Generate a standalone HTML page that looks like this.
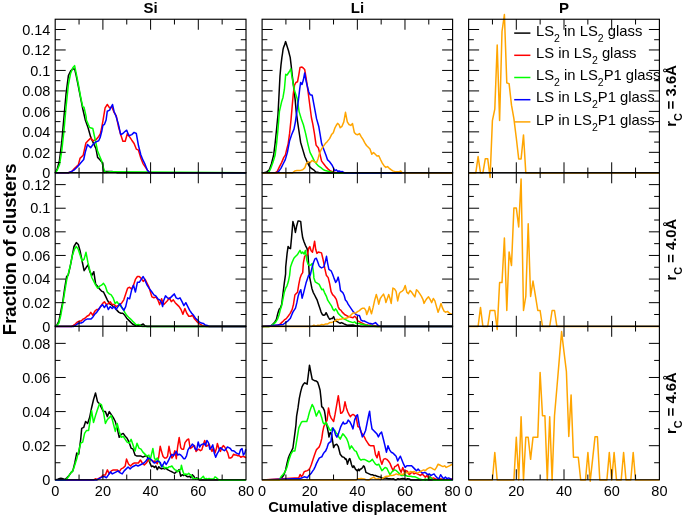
<!DOCTYPE html><html><head><meta charset="utf-8"><style>html,body{margin:0;padding:0;background:#fff;}svg{display:block;}text{font-family:"Liberation Sans",sans-serif;}</style></head><body>
<svg width="685" height="516" viewBox="0 0 685 516">
<rect width="685" height="516" fill="#fff"/>
<defs><filter id="gs" x="0" y="0" width="100%" height="100%" filterUnits="userSpaceOnUse"><feColorMatrix type="saturate" values="0"/></filter></defs>
<path d="M514.2 33.1H530.4" stroke="#000000" stroke-width="1.5"/>
<text filter="url(#gs)" x="536" y="35.7" font-size="14.8"><tspan dy="0">LS</tspan><tspan dy="6" font-size="10.5">2</tspan><tspan dy="-6">&#160;in&#160;LS</tspan><tspan dy="6" font-size="10.5">2</tspan><tspan dy="-6">&#160;glass</tspan></text>
<path d="M514.2 55.3H530.4" stroke="#ff0000" stroke-width="1.5"/>
<text filter="url(#gs)" x="536" y="57.9" font-size="14.8"><tspan dy="0">LS&#160;in&#160;LS</tspan><tspan dy="6" font-size="10.5">2</tspan><tspan dy="-6">&#160;glass</tspan></text>
<path d="M514.2 77.5H530.4" stroke="#00ff00" stroke-width="1.5"/>
<text filter="url(#gs)" x="536" y="80.1" font-size="14.8"><tspan dy="0">LS</tspan><tspan dy="6" font-size="10.5">2</tspan><tspan dy="-6">&#160;in&#160;LS</tspan><tspan dy="6" font-size="10.5">2</tspan><tspan dy="-6">P1&#160;glass</tspan></text>
<path d="M514.2 99.7H530.4" stroke="#0000ff" stroke-width="1.5"/>
<text filter="url(#gs)" x="536" y="102.3" font-size="14.8"><tspan dy="0">LS&#160;in&#160;LS</tspan><tspan dy="6" font-size="10.5">2</tspan><tspan dy="-6">P1&#160;glass</tspan></text>
<path d="M514.2 121.9H530.4" stroke="#ffa500" stroke-width="1.5"/>
<text filter="url(#gs)" x="536" y="124.5" font-size="14.8"><tspan dy="0">LP&#160;in&#160;LS</tspan><tspan dy="6" font-size="10.5">2</tspan><tspan dy="-6">P1&#160;glass</tspan></text>
<g fill="none" stroke-width="1.5" stroke-linejoin="round">
<path d="M55.2,172.8 57.2,169.1 59.5,160.2 61.7,142.4 63.9,117.9 66.1,93.4 68.4,75.6 70.6,71.1 72.8,68.9 74.6,68.9 76.2,75.6 78.4,86.7 80.6,97.9 82.8,109.0 85.1,119.0 85.3,120.0 88.0,127.5 90.7,137.1 93.3,142.9 96.0,148.8 97.6,157.4 99.7,159.5 102.4,162.7 103.5,170.2 104.5,172.5 105.1,171.4 108.5,171.4 111.8,171.4 115.1,172.0 117.4,172.7 246.0,172.8" stroke="#000000"/>
<path d="M55.2,172.8 68.4,172.7 71.7,171.4 73.9,169.1 76.2,166.9 78.4,164.7 80.0,158.4 83.2,155.2 85.9,143.0 88.0,140.8 90.7,138.1 92.8,140.8 96.0,139.7 98.7,136.5 100.3,133.9 101.3,129.6 102.9,121.1 105.1,107.9 107.3,104.5 109.6,107.9 111.8,106.8 114.0,112.3 116.2,115.7 118.5,126.8 120.7,134.6 122.9,141.3 125.2,141.3 127.4,133.5 129.6,136.8 131.8,140.2 134.1,143.5 136.3,149.1 138.5,150.2 140.8,158.0 143.0,163.6 145.2,166.9 147.4,170.2 149.7,172.7 246.0,172.8" stroke="#ff0000"/>
<path d="M55.2,172.8 57.2,170.2 59.5,164.7 61.7,151.3 63.9,131.3 66.1,106.8 68.4,84.5 70.6,73.4 72.8,67.8 74.6,65.6 76.2,73.4 78.4,84.5 80.6,96.8 82.8,106.8 84.0,107.2 86.2,116.8 86.4,120.0 89.6,127.5 92.8,128.5 94.4,136.0 96.0,143.5 97.6,151.0 99.7,156.3 101.9,161.6 102.9,165.9 104.5,171.2 106.1,172.5 109.9,171.8 246.0,172.8" stroke="#00ff00"/>
<path d="M55.2,172.8 68.4,172.7 71.7,171.4 73.9,170.2 76.2,168.0 78.4,165.8 80.0,163.8 83.7,159.5 85.3,152.0 87.5,144.5 90.7,147.7 93.3,144.0 96.0,141.9 98.7,140.8 100.3,137.1 101.9,130.7 102.9,125.3 104.5,124.3 106.1,120.0 107.3,111.2 109.6,110.1 112.5,104.5 114.0,111.2 116.2,116.8 118.5,124.6 120.7,134.6 122.9,133.5 125.2,131.3 126.7,130.2 128.9,135.7 131.8,134.6 134.1,132.4 136.3,133.5 138.5,145.8 140.8,154.7 143.0,160.2 145.2,164.7 147.4,170.2 149.7,172.7 246.0,172.8" stroke="#0000ff"/>
</g>
<rect x="55.20" y="19.25" width="190.80" height="153.55" fill="none" stroke="#000" stroke-width="1.15"/>
<path d="M79.05 172.80V167.55M79.05 19.25V24.50M102.90 172.80V162.30M102.90 19.25V29.75M126.75 172.80V167.55M126.75 19.25V24.50M150.60 172.80V162.30M150.60 19.25V29.75M174.45 172.80V167.55M174.45 19.25V24.50M198.30 172.80V162.30M198.30 19.25V29.75M222.15 172.80V167.55M222.15 19.25V24.50M55.20 162.56H60.45M246.00 162.56H240.75M55.20 152.33H65.70M246.00 152.33H235.50M55.20 142.09H60.45M246.00 142.09H240.75M55.20 131.85H65.70M246.00 131.85H235.50M55.20 121.62H60.45M246.00 121.62H240.75M55.20 111.38H65.70M246.00 111.38H235.50M55.20 101.14H60.45M246.00 101.14H240.75M55.20 90.91H65.70M246.00 90.91H235.50M55.20 80.67H60.45M246.00 80.67H240.75M55.20 70.43H65.70M246.00 70.43H235.50M55.20 60.20H60.45M246.00 60.20H240.75M55.20 49.96H65.70M246.00 49.96H235.50M55.20 39.72H60.45M246.00 39.72H240.75M55.20 29.49H65.70M246.00 29.49H235.50" stroke="#000" stroke-width="1" fill="none"/>
<g fill="none" stroke-width="1.5" stroke-linejoin="round">
<path d="M262.1,173.0 264.9,172.6 267.1,171.6 269.3,169.8 271.4,164.0 273.6,155.3 275.1,143.6 276.6,129.1 278.0,114.5 280.0,75.7 281.0,64.8 281.9,57.4 282.5,53.5 283.0,49.6 283.6,47.3 284.4,45.4 285.6,41.6 286.3,43.8 287.3,46.9 288.5,50.8 289.6,55.1 290.2,57.4 291.1,64.8 292.1,74.3 293.9,89.2 295.2,100.1 296.2,111.6 297.6,121.8 299.1,132.0 300.6,142.2 302.7,149.4 304.9,156.7 307.1,161.8 309.3,166.2 311.4,168.4 313.6,169.8 315.8,172.0 318.7,172.5 323.1,172.9 452.6,173.0" stroke="#000000"/>
<path d="M262.1,173.0 275.1,172.9 277.3,171.3 279.4,166.9 281.6,162.6 283.8,157.4 285.3,155.3 286.7,149.4 288.2,143.6 289.6,133.4 291.1,118.9 293.2,94.7 294.5,85.2 295.9,82.5 297.5,81.8 298.9,74.3 300.0,67.5 302.0,67.1 303.4,68.2 304.7,69.6 305.7,75.7 306.8,82.5 308.1,92.0 311.4,117.5 312.9,124.7 314.4,133.4 316.1,145.1 318.4,148.0 320.2,155.3 321.6,161.1 323.8,164.0 326.0,166.9 328.2,169.1 330.4,171.0 333.3,172.0 337.6,172.9 452.6,173.0" stroke="#ff0000"/>
<path d="M262.1,173.0 267.8,172.9 269.3,171.3 270.7,168.4 272.9,162.6 275.1,155.3 276.6,143.6 278.0,129.1 279.4,111.6 281.7,101.4 283.0,97.4 284.4,89.2 285.7,74.3 287.1,75.0 288.4,73.0 289.8,70.9 290.8,68.9 291.8,75.7 293.2,83.8 294.5,90.6 295.9,94.7 297.2,98.7 299.1,111.6 301.3,118.9 303.4,124.7 305.6,133.4 307.8,143.6 310.0,152.4 312.2,156.7 314.4,161.1 316.6,164.0 318.7,166.2 320.9,167.6 323.1,169.5 325.3,170.6 328.2,171.3 331.1,172.0 334.7,172.9 452.6,173.0" stroke="#00ff00"/>
<path d="M262.1,173.0 276.6,172.9 278.7,171.3 280.9,168.4 283.1,164.0 285.3,159.6 287.4,152.4 289.6,140.7 291.8,134.2 294.0,129.1 295.4,121.8 298.6,98.7 299.7,89.2 300.6,82.5 302.0,84.5 303.4,79.8 304.7,73.0 306.1,81.1 307.4,86.5 308.8,92.0 310.1,94.7 312.2,95.3 316.6,118.9 318.7,126.2 320.2,134.9 321.6,143.6 323.8,149.4 326.0,155.3 327.4,159.6 329.6,161.8 331.8,164.7 333.3,167.6 334.7,170.6 336.2,169.8 337.6,171.3 339.1,171.0 341.3,172.0 342.0,171.4 344.6,173.0 452.6,173.0" stroke="#0000ff"/>
<path d="M262.1,173.0 292.6,172.9 294.7,171.0 296.9,170.6 299.8,170.6 302.7,169.8 304.9,167.6 306.4,163.3 308.6,161.8 310.0,162.6 312.2,160.4 314.4,161.8 316.6,162.6 318.0,158.9 319.4,153.8 320.9,150.2 323.1,146.6 325.3,143.6 327.4,141.4 329.6,138.6 331.8,134.2 333.3,132.7 334.7,128.4 336.2,125.5 337.6,123.3 339.1,124.7 340.2,127.7 342.0,126.3 343.8,121.9 345.5,112.3 347.3,121.9 349.0,124.5 350.8,125.4 352.5,123.6 354.3,132.4 356.0,134.2 357.8,134.7 359.5,133.6 361.3,136.8 363.0,139.4 364.8,142.9 366.5,145.5 368.3,147.3 370.0,149.0 371.8,154.3 373.5,152.5 375.3,154.3 377.0,156.0 378.8,155.7 380.5,159.5 382.3,163.1 384.0,165.7 385.8,167.4 387.5,166.6 389.3,168.3 391.0,169.7 392.8,170.9 394.5,171.4 396.3,171.8 398.9,171.8 400.7,170.9 402.4,173.0 452.6,173.0" stroke="#ffa500"/>
</g>
<rect x="262.10" y="19.25" width="190.50" height="153.55" fill="none" stroke="#000" stroke-width="1.15"/>
<path d="M285.91 172.80V167.55M285.91 19.25V24.50M309.73 172.80V162.30M309.73 19.25V29.75M333.54 172.80V167.55M333.54 19.25V24.50M357.35 172.80V162.30M357.35 19.25V29.75M381.16 172.80V167.55M381.16 19.25V24.50M404.98 172.80V162.30M404.98 19.25V29.75M428.79 172.80V167.55M428.79 19.25V24.50M262.10 162.56H267.35M452.60 162.56H447.35M262.10 152.33H272.60M452.60 152.33H442.10M262.10 142.09H267.35M452.60 142.09H447.35M262.10 131.85H272.60M452.60 131.85H442.10M262.10 121.62H267.35M452.60 121.62H447.35M262.10 111.38H272.60M452.60 111.38H442.10M262.10 101.14H267.35M452.60 101.14H447.35M262.10 90.91H272.60M452.60 90.91H442.10M262.10 80.67H267.35M452.60 80.67H447.35M262.10 70.43H272.60M452.60 70.43H442.10M262.10 60.20H267.35M452.60 60.20H447.35M262.10 49.96H272.60M452.60 49.96H442.10M262.10 39.72H267.35M452.60 39.72H447.35M262.10 29.49H272.60M452.60 29.49H442.10" stroke="#000" stroke-width="1" fill="none"/>
<g fill="none" stroke-width="1.5" stroke-linejoin="round">
<path d="M468.6,172.9 475.8,172.9 478.1,156.6 480.5,172.9 482.9,172.9 485.3,158.7 487.7,158.7 490.1,177.5 492.4,120.6 494.8,109.1 497.2,45.0 499.6,120.6 502.0,31.5 504.4,14.6 506.8,82.9 509.1,83.7 511.5,105.2 513.9,118.7 516.3,138.0 518.7,158.9 521.1,158.9 523.5,134.9 525.8,172.9 659.4,172.9" stroke="#ffa500"/>
</g>
<rect x="468.60" y="19.25" width="190.80" height="153.55" fill="none" stroke="#000" stroke-width="1.15"/>
<path d="M492.45 172.80V167.55M492.45 19.25V24.50M516.30 172.80V162.30M516.30 19.25V29.75M540.15 172.80V167.55M540.15 19.25V24.50M564.00 172.80V162.30M564.00 19.25V29.75M587.85 172.80V167.55M587.85 19.25V24.50M611.70 172.80V162.30M611.70 19.25V29.75M635.55 172.80V167.55M635.55 19.25V24.50M468.60 162.56H473.85M659.40 162.56H654.15M468.60 152.33H479.10M659.40 152.33H648.90M468.60 142.09H473.85M659.40 142.09H654.15M468.60 131.85H479.10M659.40 131.85H648.90M468.60 121.62H473.85M659.40 121.62H654.15M468.60 111.38H479.10M659.40 111.38H648.90M468.60 101.14H473.85M659.40 101.14H654.15M468.60 90.91H479.10M659.40 90.91H648.90M468.60 80.67H473.85M659.40 80.67H654.15M468.60 70.43H479.10M659.40 70.43H648.90M468.60 60.20H473.85M659.40 60.20H654.15M468.60 49.96H479.10M659.40 49.96H648.90M468.60 39.72H473.85M659.40 39.72H654.15M468.60 29.49H479.10M659.40 29.49H648.90" stroke="#000" stroke-width="1" fill="none"/>
<g fill="none" stroke-width="1.5" stroke-linejoin="round">
<path d="M55.0,326.5 56.9,325.0 58.9,321.1 60.8,311.4 62.8,301.7 64.7,288.1 66.6,276.5 68.2,275.0 70.1,266.8 72.0,257.1 74.0,246.5 76.3,242.6 78.3,244.5 80.2,251.3 82.1,261.0 84.1,270.7 86.0,267.8 88.0,264.9 89.9,271.7 91.8,275.5 93.8,271.7 95.7,284.3 97.6,286.2 99.6,289.1 101.5,291.1 103.5,292.0 105.4,295.9 107.3,299.8 109.3,303.6 111.2,304.6 113.1,306.6 115.1,307.5 117.0,310.4 119.0,312.4 120.9,313.3 122.8,313.3 124.8,315.3 126.7,318.2 128.6,320.1 130.6,322.1 132.5,324.0 134.5,325.0 136.4,325.5 138.3,325.0 140.3,325.5 143.2,324.0 145.1,326.1 147.1,326.5 246.0,326.5" stroke="#000000"/>
<path d="M55.2,326.5 71.5,326.5 73.4,325.4 75.3,324.0 77.3,322.1 79.2,321.1 81.2,321.1 83.1,319.1 85.0,318.2 87.0,316.2 88.9,315.3 90.8,312.4 92.8,315.3 94.7,311.4 96.7,309.5 98.6,309.5 100.5,306.6 102.5,303.6 104.4,301.7 106.4,304.6 108.3,303.6 110.2,301.7 112.2,304.6 114.1,304.6 116.0,306.6 118.0,305.6 119.9,304.6 121.9,302.7 123.8,299.8 125.7,293.9 127.7,288.1 129.6,287.2 131.6,289.1 133.5,285.2 135.4,279.4 137.4,276.5 139.3,276.5 141.2,278.4 143.2,281.4 145.1,279.4 147.1,283.3 149.0,287.2 151.9,296.9 153.9,297.8 155.8,296.9 157.8,299.8 159.7,304.6 161.6,298.8 163.6,304.6 165.5,302.7 167.4,300.7 169.4,297.8 171.3,301.7 173.3,299.8 175.2,302.7 177.1,304.6 179.1,306.6 181.0,309.5 182.9,314.3 184.9,308.5 186.8,313.3 188.8,316.2 190.7,316.2 192.6,315.3 194.6,319.1 196.5,321.1 198.4,323.0 200.4,324.4 202.3,325.4 204.3,326.1 206.2,326.5 246.0,326.5" stroke="#ff0000"/>
<path d="M55.0,326.5 56.9,325.4 58.9,323.0 60.8,315.3 62.8,303.6 64.7,292.0 66.6,280.4 68.6,272.6 70.5,264.9 72.4,255.2 74.4,249.4 76.3,246.5 78.3,249.4 80.2,255.2 82.1,261.0 84.1,259.1 86.0,252.3 88.0,262.9 89.9,270.7 91.8,277.5 93.8,281.4 95.7,285.2 97.6,288.1 99.6,286.2 101.5,285.2 103.5,283.3 105.4,286.2 107.3,292.0 109.3,293.9 111.2,294.9 113.1,297.8 115.1,303.6 117.0,301.7 119.0,304.6 120.9,306.6 122.8,308.5 124.8,312.4 126.7,315.3 128.6,317.2 130.6,319.1 132.5,321.1 134.5,323.0 136.4,325.0 138.3,324.4 140.3,325.4 142.2,326.5 246.0,326.5" stroke="#00ff00"/>
<path d="M55.2,326.5 73.4,326.5 75.3,325.4 77.3,324.0 79.2,323.0 81.2,323.0 83.1,322.1 85.0,320.1 87.0,319.1 88.9,319.1 90.8,319.1 92.8,317.2 94.7,314.3 96.7,312.4 98.6,309.5 100.5,306.6 102.5,304.6 104.4,307.5 106.4,304.6 108.3,309.5 110.2,306.6 112.2,308.5 114.1,306.6 116.0,309.5 118.0,306.6 119.9,303.6 121.9,307.5 123.8,310.4 125.7,306.6 127.7,297.8 129.6,298.8 131.6,290.1 133.5,285.2 135.4,292.0 137.4,282.3 139.3,282.3 141.2,279.4 143.2,276.5 145.1,280.4 147.1,285.2 149.0,288.1 151.9,292.0 153.9,294.9 155.8,295.9 157.8,298.8 159.7,299.8 161.6,302.7 162.6,306.6 163.6,300.7 165.5,295.9 167.4,297.8 169.4,298.8 171.3,296.9 173.3,294.9 174.2,293.9 176.2,297.8 178.1,298.8 180.0,297.8 182.0,301.7 183.9,305.6 185.8,302.7 187.8,306.6 189.7,310.4 191.7,313.3 193.6,315.3 195.5,318.2 197.5,320.1 199.4,322.1 201.4,323.0 203.3,323.4 205.2,325.0 207.2,325.5 209.1,326.5 246.0,326.5" stroke="#0000ff"/>
</g>
<rect x="55.20" y="172.80" width="190.80" height="153.50" fill="none" stroke="#000" stroke-width="1.15"/>
<path d="M79.05 326.30V321.05M79.05 172.80V178.05M102.90 326.30V315.80M102.90 172.80V183.30M126.75 326.30V321.05M126.75 172.80V178.05M150.60 326.30V315.80M150.60 172.80V183.30M174.45 326.30V321.05M174.45 172.80V178.05M198.30 326.30V315.80M198.30 172.80V183.30M222.15 326.30V321.05M222.15 172.80V178.05M55.20 314.49H60.45M246.00 314.49H240.75M55.20 302.68H65.70M246.00 302.68H235.50M55.20 290.88H60.45M246.00 290.88H240.75M55.20 279.07H65.70M246.00 279.07H235.50M55.20 267.26H60.45M246.00 267.26H240.75M55.20 255.45H65.70M246.00 255.45H235.50M55.20 243.65H60.45M246.00 243.65H240.75M55.20 231.84H65.70M246.00 231.84H235.50M55.20 220.03H60.45M246.00 220.03H240.75M55.20 208.22H65.70M246.00 208.22H235.50M55.20 196.42H60.45M246.00 196.42H240.75M55.20 184.61H65.70M246.00 184.61H235.50" stroke="#000" stroke-width="1" fill="none"/>
<g fill="none" stroke-width="1.5" stroke-linejoin="round">
<path d="M262.1,326.5 268.6,326.4 270.5,326.1 272.5,324.5 274.5,322.6 276.4,319.3 277.8,313.4 279.1,309.4 280.4,308.1 281.7,304.2 283.0,293.6 284.3,283.1 285.6,273.9 285.7,267.0 287.1,253.4 288.1,246.4 289.1,248.0 290.5,248.7 291.6,237.1 292.9,221.5 294.3,226.3 295.4,232.4 296.6,226.3 298.0,221.1 299.3,221.1 300.7,221.5 301.6,230.3 302.7,237.8 304.1,241.9 305.4,245.3 307.1,248.7 308.1,256.1 308.8,267.0 309.3,275.3 310.6,281.8 311.9,288.4 313.2,292.3 314.6,295.0 315.9,297.6 317.2,300.2 318.5,304.2 319.8,308.1 321.1,312.1 322.4,314.7 323.8,315.3 325.1,314.7 326.1,312.7 327.1,314.7 328.4,317.3 329.7,319.3 331.0,318.6 332.3,318.6 333.6,316.6 334.9,319.9 336.2,321.2 337.6,321.9 338.9,322.6 340.2,323.2 341.5,322.6 342.8,323.2 344.1,323.9 345.4,324.5 346.8,325.2 353.0,325.0 354.6,325.5 356.2,326.0 357.9,326.0 361.1,326.5 452.6,326.5" stroke="#000000"/>
<path d="M262.1,326.5 278.4,325.2 280.4,323.9 282.4,321.9 284.3,319.9 286.3,318.6 288.3,316.0 290.2,313.4 292.2,309.4 293.5,304.2 294.9,295.0 296.2,293.6 297.5,292.3 298.8,284.4 300.1,277.9 301.4,274.6 302.7,272.6 303.4,262.9 304.7,256.1 306.1,255.4 307.4,254.8 308.8,248.0 309.8,246.6 311.1,250.7 312.5,252.1 313.6,246.6 314.6,241.2 315.7,249.3 316.9,253.4 318.3,252.1 320.0,252.4 321.5,252.9 322.9,258.7 323.9,263.6 324.8,268.4 326.3,275.2 328.2,277.6 329.7,283.9 331.1,291.6 332.6,294.6 334.5,296.5 336.3,299.4 336.9,301.5 338.2,306.8 339.5,309.4 340.8,310.1 342.2,312.1 343.5,313.4 344.8,314.7 346.1,315.3 347.4,316.0 348.7,316.6 353.0,317.8 354.6,316.2 356.2,317.8 357.9,321.0 359.4,321.8 361.1,322.6 362.7,323.4 364.3,324.2 365.9,325.0 367.5,325.0 369.1,325.5 370.7,325.0 372.3,326.0 373.9,325.5 375.5,326.0 377.1,326.5 452.6,326.5" stroke="#ff0000"/>
<path d="M262.1,326.5 269.9,326.4 271.9,325.2 273.8,323.9 275.8,321.9 277.8,318.6 279.1,314.7 280.4,309.4 281.7,305.5 283.0,298.9 284.3,292.3 285.6,288.4 287.0,285.8 288.3,281.8 289.6,275.3 290.5,267.0 291.9,262.9 293.9,258.2 295.2,256.8 297.3,254.8 298.6,252.7 300.0,250.4 301.4,253.4 302.7,252.1 304.1,254.1 305.4,250.4 306.8,260.2 308.1,264.3 309.5,265.6 310.9,264.9 312.2,263.6 312.9,268.3 313.6,273.8 313.9,277.9 315.2,281.8 317.2,283.1 319.2,284.4 320.5,287.1 321.8,289.7 323.1,289.1 324.4,292.3 326.4,296.3 327.7,300.2 329.0,302.2 330.3,304.2 331.6,306.1 333.0,309.4 334.3,310.7 335.6,308.8 336.9,310.7 338.2,313.4 339.5,314.7 340.8,316.0 342.2,317.3 343.5,318.6 344.8,319.3 346.1,319.9 347.4,320.6 348.7,321.2 353.0,322.6 354.6,321.8 356.2,323.4 357.9,323.4 359.4,323.4 361.1,324.2 362.7,324.2 364.3,325.0 365.9,325.0 367.5,325.5 369.1,326.0 370.7,325.5 372.3,326.0 375.5,326.5 452.6,326.5" stroke="#00ff00"/>
<path d="M262.1,326.5 283.0,324.5 285.6,322.6 288.3,320.6 290.2,318.6 291.6,315.3 292.9,312.1 294.2,310.1 295.5,308.1 296.8,302.9 298.1,296.3 299.4,292.3 300.8,289.7 302.1,298.2 303.4,293.6 304.7,288.4 306.0,283.1 307.3,279.2 308.6,275.3 310.0,275.9 310.6,273.9 310.9,272.4 312.2,267.0 313.6,262.2 314.9,258.9 316.3,258.2 317.6,261.6 319.0,265.6 320.0,266.9 321.5,267.9 323.9,266.9 325.3,261.6 326.5,256.3 327.7,263.6 328.9,269.4 331.1,270.8 332.6,274.2 334.0,278.1 335.7,282.4 337.0,280.5 338.2,277.1 339.4,282.9 340.5,290.7 342.8,292.6 344.2,295.5 345.4,300.0 346.8,301.5 348.1,304.2 353.0,311.4 354.6,313.0 356.2,314.6 357.9,315.4 359.4,315.4 361.1,320.2 362.7,321.0 364.3,321.0 365.9,321.8 367.5,322.6 369.1,323.4 370.7,323.4 372.3,324.2 373.9,323.4 375.5,322.6 377.1,324.2 378.7,326.0 381.1,326.5 452.6,326.5" stroke="#0000ff"/>
<path d="M262.1,326.5 311.9,326.4 313.9,325.2 315.9,326.1 317.9,325.2 319.8,325.4 321.8,324.5 323.8,324.9 325.7,323.9 327.7,323.9 329.7,322.6 331.6,322.6 333.0,321.9 334.3,321.2 335.6,321.0 336.9,319.3 338.2,319.9 339.5,319.3 340.8,319.3 342.8,318.6 344.8,318.4 346.8,318.0 348.7,317.3 353.0,313.0 354.6,313.0 356.2,312.7 357.9,311.4 359.4,310.6 361.1,309.0 362.7,308.2 364.3,308.2 365.9,310.6 366.7,314.6 368.3,310.6 369.4,306.6 370.7,311.4 371.5,313.8 373.1,307.4 374.7,300.1 376.3,294.5 377.9,300.1 378.7,304.2 380.3,298.5 381.9,296.1 383.5,294.1 385.1,298.5 385.9,302.6 387.6,297.7 388.7,294.5 390.0,298.5 391.2,303.4 392.9,288.1 394.5,288.9 396.1,291.3 397.7,300.9 399.3,293.7 400.4,292.1 402.0,291.3 403.6,289.7 405.2,285.4 406.8,292.1 408.4,293.7 410.0,290.5 411.6,292.1 413.2,294.5 414.9,296.9 416.5,289.7 418.1,291.3 419.7,293.7 421.3,296.1 422.9,299.3 424.0,303.4 425.3,300.9 426.9,298.5 428.5,296.9 430.1,299.3 431.7,302.6 433.3,298.5 434.9,300.9 436.5,306.6 438.1,312.2 439.8,307.4 441.0,303.4 442.6,308.2 444.2,311.4 445.9,312.2 447.5,311.4 449.1,313.0 450.7,313.8 452.6,314.6" stroke="#ffa500"/>
</g>
<rect x="262.10" y="172.80" width="190.50" height="153.50" fill="none" stroke="#000" stroke-width="1.15"/>
<path d="M285.91 326.30V321.05M285.91 172.80V178.05M309.73 326.30V315.80M309.73 172.80V183.30M333.54 326.30V321.05M333.54 172.80V178.05M357.35 326.30V315.80M357.35 172.80V183.30M381.16 326.30V321.05M381.16 172.80V178.05M404.98 326.30V315.80M404.98 172.80V183.30M428.79 326.30V321.05M428.79 172.80V178.05M262.10 314.49H267.35M452.60 314.49H447.35M262.10 302.68H272.60M452.60 302.68H442.10M262.10 290.88H267.35M452.60 290.88H447.35M262.10 279.07H272.60M452.60 279.07H442.10M262.10 267.26H267.35M452.60 267.26H447.35M262.10 255.45H272.60M452.60 255.45H442.10M262.10 243.65H267.35M452.60 243.65H447.35M262.10 231.84H272.60M452.60 231.84H442.10M262.10 220.03H267.35M452.60 220.03H447.35M262.10 208.22H272.60M452.60 208.22H442.10M262.10 196.42H267.35M452.60 196.42H447.35M262.10 184.61H272.60M452.60 184.61H442.10" stroke="#000" stroke-width="1" fill="none"/>
<g fill="none" stroke-width="1.5" stroke-linejoin="round">
<path d="M468.6,326.5 478.1,326.5 480.5,307.4 482.9,326.5 487.7,326.5 490.1,310.5 492.4,310.5 494.8,310.5 497.2,329.5 499.6,282.6 502.0,282.6 504.4,237.9 506.8,310.5 509.1,251.9 511.5,265.5 513.9,207.9 516.3,207.9 518.7,226.9 521.1,178.9 523.5,310.5 525.8,296.5 528.2,223.8 530.6,296.5 533.0,281.0 535.4,295.6 537.8,310.5 540.1,310.5 542.5,326.5 549.7,326.5 552.1,310.5 554.5,310.5 556.9,326.5 659.4,326.5" stroke="#ffa500"/>
</g>
<rect x="468.60" y="172.80" width="190.80" height="153.50" fill="none" stroke="#000" stroke-width="1.15"/>
<path d="M492.45 326.30V321.05M492.45 172.80V178.05M516.30 326.30V315.80M516.30 172.80V183.30M540.15 326.30V321.05M540.15 172.80V178.05M564.00 326.30V315.80M564.00 172.80V183.30M587.85 326.30V321.05M587.85 172.80V178.05M611.70 326.30V315.80M611.70 172.80V183.30M635.55 326.30V321.05M635.55 172.80V178.05M468.60 314.49H473.85M659.40 314.49H654.15M468.60 302.68H479.10M659.40 302.68H648.90M468.60 290.88H473.85M659.40 290.88H654.15M468.60 279.07H479.10M659.40 279.07H648.90M468.60 267.26H473.85M659.40 267.26H654.15M468.60 255.45H479.10M659.40 255.45H648.90M468.60 243.65H473.85M659.40 243.65H654.15M468.60 231.84H479.10M659.40 231.84H648.90M468.60 220.03H473.85M659.40 220.03H654.15M468.60 208.22H479.10M659.40 208.22H648.90M468.60 196.42H473.85M659.40 196.42H654.15M468.60 184.61H479.10M659.40 184.61H648.90" stroke="#000" stroke-width="1" fill="none"/>
<g fill="none" stroke-width="1.5" stroke-linejoin="round">
<path d="M55.0,480.0 57.0,479.6 59.0,478.8 60.9,478.2 62.9,478.8 64.9,479.6 66.9,477.8 68.8,475.9 70.8,472.9 72.8,470.9 74.8,463.0 76.7,453.1 78.7,454.1 80.7,439.3 81.7,428.4 83.7,427.4 85.6,421.5 87.6,423.5 89.6,417.6 91.6,407.7 93.5,399.8 95.5,392.9 97.5,401.7 99.5,403.7 101.4,407.7 103.4,411.6 105.4,411.6 107.4,416.6 109.3,411.6 111.3,414.6 113.3,417.6 115.3,421.5 117.2,428.4 119.2,437.3 121.2,434.4 123.2,433.4 125.2,436.3 127.1,438.3 129.1,442.2 131.1,448.2 133.1,449.2 135.0,455.1 137.0,456.1 139.0,456.1 141.0,456.1 142.9,457.1 144.9,456.1 146.9,456.1 148.9,460.0 150.0,463.1 151.5,466.7 152.9,466.0 154.4,467.4 155.8,466.0 157.3,469.6 158.8,466.7 160.2,468.2 161.7,468.9 163.1,468.2 164.6,468.9 166.1,468.2 167.5,469.6 169.0,470.4 170.4,471.1 171.9,471.8 173.4,472.6 174.8,473.3 176.3,471.8 177.7,471.1 179.2,469.6 180.7,476.2 182.1,474.7 183.6,475.5 185.0,474.7 186.5,476.2 188.0,476.9 189.4,476.2 190.9,477.7 192.3,474.7 193.8,476.2 195.3,479.1 196.7,477.7 198.2,479.1 199.6,480.1 245.8,480.1" stroke="#000000"/>
<path d="M55.2,480.0 93.5,480.0 95.5,478.8 97.5,479.6 99.5,477.8 101.4,476.8 103.4,474.9 105.4,474.9 107.4,469.9 109.3,473.9 111.3,470.9 113.3,469.9 115.3,469.9 117.2,469.9 119.2,471.9 121.2,468.9 123.2,467.9 125.2,466.0 126.5,459.1 128.5,464.0 130.5,466.0 132.5,464.0 134.4,463.0 136.4,463.0 138.4,463.0 140.4,460.0 142.3,463.0 144.3,465.0 146.3,463.0 148.3,460.0 150.0,460.9 151.5,460.1 152.9,461.6 154.4,460.9 155.8,462.3 157.3,463.8 158.8,456.5 160.2,446.3 161.7,452.1 163.1,456.5 164.6,458.0 166.1,458.0 167.5,456.5 169.0,446.3 170.4,453.6 171.9,458.0 173.4,455.8 174.8,450.7 176.3,458.7 177.7,446.3 179.2,437.5 180.7,447.7 182.1,449.2 183.6,449.2 185.0,442.6 187.2,439.7 188.7,439.0 190.2,448.5 191.6,447.7 193.1,446.3 194.5,445.6 196.0,451.4 197.4,449.9 198.9,449.2 200.4,450.7 201.8,449.9 203.3,444.8 204.7,440.4 206.2,446.3 207.7,445.6 209.1,444.1 210.6,448.5 212.0,451.4 213.5,447.7 215.0,452.9 216.4,448.5 217.4,443.4 218.9,448.5 220.4,451.4 221.8,447.7 223.3,445.6 224.7,447.0 226.2,449.9 227.7,452.9 229.1,458.0 230.6,458.0 232.0,457.2 233.5,454.3 235.0,455.0 236.4,455.0 237.9,455.8 239.3,455.8 240.8,457.2 242.3,456.5 243.7,456.5 245.2,457.2 245.8,458.0" stroke="#ff0000"/>
<path d="M55.2,480.0 64.9,480.0 66.9,478.8 68.8,475.9 70.8,472.9 72.8,470.9 74.8,465.0 76.7,459.1 78.7,451.1 80.7,443.2 82.7,442.2 84.6,433.4 86.6,430.4 88.6,430.4 90.6,417.6 91.6,410.6 93.5,422.5 95.5,415.6 97.5,409.6 99.5,403.7 101.4,404.7 103.4,411.6 105.4,423.5 107.4,419.5 109.3,417.6 111.3,415.6 113.3,423.5 115.3,431.4 117.2,423.5 119.2,431.4 121.2,437.3 123.2,436.3 125.2,439.3 127.1,442.2 129.1,443.2 131.1,439.3 133.1,445.2 135.0,451.1 137.0,443.2 139.0,448.2 141.0,449.2 142.9,452.1 144.9,454.1 146.9,456.1 148.9,455.1 150.0,460.9 151.5,454.3 152.9,448.5 154.4,458.0 155.8,460.1 157.3,458.0 158.8,460.9 160.2,463.8 161.7,466.7 163.1,466.0 164.6,468.2 166.1,467.4 167.5,468.2 169.0,466.7 170.4,466.7 171.9,466.0 173.4,468.2 174.8,469.6 176.3,470.4 177.7,471.8 179.2,470.4 180.7,469.6 181.4,465.3 182.8,471.1 184.3,474.7 185.8,474.0 187.2,474.7 188.7,473.3 190.2,474.7 191.6,475.5 193.1,479.1 194.5,478.4 196.0,479.1 197.4,478.4 198.9,479.1 200.4,479.1 201.8,477.7 203.3,476.2 204.7,479.1 206.2,478.4 207.7,479.1 209.1,478.4 210.6,479.1 212.0,479.1 213.5,479.1 215.0,476.9 216.4,477.7 217.9,479.1 219.3,480.1 245.8,480.1" stroke="#00ff00"/>
<path d="M55.2,480.0 96.5,480.0 98.5,478.8 100.5,477.8 102.4,476.8 104.4,476.4 106.4,477.8 108.4,474.9 110.3,471.9 112.3,473.9 114.3,472.9 116.3,471.9 118.2,470.9 120.2,472.9 122.2,473.9 124.2,470.9 126.2,468.9 128.1,467.0 130.1,468.9 132.1,467.0 134.1,466.0 136.0,465.0 138.0,466.0 140.0,465.0 142.0,464.0 143.9,463.0 145.9,461.0 147.9,458.1 150.0,458.7 151.5,460.1 152.9,461.6 154.4,463.1 155.8,462.3 157.3,460.9 158.8,461.6 160.2,462.3 161.7,466.7 163.1,464.5 164.6,461.6 166.1,464.5 167.5,462.3 169.0,459.4 170.4,456.5 171.9,454.3 173.4,455.8 174.8,453.6 176.3,451.4 177.7,455.0 179.2,454.3 180.7,455.0 182.1,456.5 183.6,458.7 185.0,458.7 186.5,455.8 188.0,449.9 189.4,447.7 190.9,446.3 192.3,444.1 193.8,445.6 195.3,449.2 196.7,449.9 198.2,441.9 199.6,447.0 201.1,444.8 202.6,444.1 204.0,443.4 205.5,445.6 206.9,440.4 208.4,442.6 209.8,449.2 211.3,447.7 212.8,444.8 214.2,452.9 215.7,457.2 217.2,453.6 218.6,451.4 220.1,447.7 221.5,448.5 223.0,449.9 224.4,450.7 225.9,449.2 227.4,447.0 228.8,447.7 230.3,448.5 231.8,450.7 233.2,450.7 234.7,451.4 236.1,452.9 237.6,453.6 239.1,454.3 240.5,449.9 242.0,448.5 243.4,455.0 244.9,452.9 245.8,449.2" stroke="#0000ff"/>
</g>
<rect x="55.20" y="326.30" width="190.80" height="153.50" fill="none" stroke="#000" stroke-width="1.15"/>
<path d="M79.05 479.80V474.55M79.05 326.30V331.55M102.90 479.80V469.30M102.90 326.30V336.80M126.75 479.80V474.55M126.75 326.30V331.55M150.60 479.80V469.30M150.60 326.30V336.80M174.45 479.80V474.55M174.45 326.30V331.55M198.30 479.80V469.30M198.30 326.30V336.80M222.15 479.80V474.55M222.15 326.30V331.55M55.20 462.74H60.45M246.00 462.74H240.75M55.20 445.69H65.70M246.00 445.69H235.50M55.20 428.63H60.45M246.00 428.63H240.75M55.20 411.58H65.70M246.00 411.58H235.50M55.20 394.52H60.45M246.00 394.52H240.75M55.20 377.47H65.70M246.00 377.47H235.50M55.20 360.41H60.45M246.00 360.41H240.75M55.20 343.36H65.70M246.00 343.36H235.50" stroke="#000" stroke-width="1" fill="none"/>
<g fill="none" stroke-width="1.5" stroke-linejoin="round">
<path d="M262.1,480.0 279.1,480.0 281.7,477.8 283.7,475.2 285.6,469.9 287.0,463.4 288.3,458.1 289.6,454.8 291.6,450.9 292.9,448.2 293.5,443.6 294.9,433.1 295.9,425.3 296.6,416.1 298.0,407.9 299.3,398.4 300.7,391.6 302.0,386.9 303.4,384.2 304.7,382.8 306.1,383.5 307.1,384.2 308.1,376.7 309.5,365.2 310.9,372.6 312.2,379.4 313.6,380.1 314.9,380.8 316.3,381.1 317.6,382.1 319.0,386.2 320.1,390.3 321.0,398.4 321.7,406.6 323.1,407.9 324.4,410.6 325.1,414.7 325.8,420.1 327.1,426.6 328.4,433.1 329.0,437.1 330.3,432.5 331.6,434.4 333.6,447.6 334.9,445.0 336.9,444.3 338.2,446.3 340.2,454.2 342.2,456.8 344.1,457.4 345.4,459.4 345.8,458.6 346.6,460.2 347.4,464.2 348.2,461.8 349.0,459.4 349.8,458.6 350.6,461.0 351.4,464.2 352.2,466.6 353.0,467.4 353.8,465.8 354.6,467.4 355.4,469.1 356.2,469.9 357.0,470.7 357.9,470.7 358.6,469.1 359.4,470.7 360.3,469.1 361.1,469.1 362.7,467.4 363.5,465.8 364.3,466.6 365.1,469.1 365.9,472.3 367.5,473.1 369.1,473.9 370.7,474.7 372.3,474.7 373.9,475.5 375.5,475.5 377.1,476.3 378.7,476.8 380.3,477.1 381.9,477.9 383.5,478.7 385.1,477.9 386.8,478.2 388.4,478.7 390.0,478.7 391.6,479.0 393.2,478.7 394.8,479.7 396.4,479.7 398.0,478.7 399.6,479.2 401.2,478.7 402.8,478.4 404.4,478.7 406.0,479.7 407.6,478.7 409.2,479.0 410.8,480.0 452.6,480.0" stroke="#000000"/>
<path d="M262.1,480.0 298.8,477.8 300.1,474.5 301.4,476.5 302.7,475.2 304.1,471.9 305.4,471.2 307.3,470.6 308.6,469.9 310.0,468.0 311.3,464.7 312.6,460.7 313.9,456.8 315.2,452.9 316.5,449.6 317.9,448.2 319.2,446.9 320.5,443.6 321.8,438.4 322.7,431.8 323.8,426.6 327.1,420.1 328.5,407.9 329.8,414.7 331.2,418.1 332.6,420.1 333.6,421.5 335.0,414.7 336.4,406.6 338.3,395.7 339.6,405.2 340.7,413.3 342.1,412.7 343.4,410.6 345.0,401.8 346.4,407.9 347.8,412.0 349.1,414.7 350.5,416.7 351.4,415.3 353.0,414.4 354.6,415.3 356.2,417.7 357.9,426.5 359.4,427.3 361.1,432.1 362.7,434.5 364.3,436.9 365.9,440.1 367.5,442.6 369.1,445.0 370.7,445.8 372.3,445.8 373.9,445.8 375.5,454.6 377.1,457.8 378.7,451.4 380.3,459.4 381.9,464.2 383.5,459.4 385.1,458.6 386.8,459.4 388.4,461.0 390.0,463.4 391.6,467.4 393.2,470.7 394.8,466.6 396.4,465.8 398.0,464.2 399.6,469.1 401.2,472.3 402.8,467.4 404.4,472.3 406.0,470.7 407.6,471.5 409.2,474.7 410.8,473.1 412.4,472.3 414.1,473.9 415.7,473.1 417.3,473.9 418.9,474.7 420.5,475.5 422.1,473.9 423.7,475.5 425.3,477.1 426.9,475.5 428.5,477.9 430.1,476.8 431.7,478.7 433.3,477.9 434.9,478.7 436.5,479.7 438.1,478.7 441.4,479.0 444.6,479.7 447.8,479.7 451.0,478.7 452.6,480.0" stroke="#ff0000"/>
<path d="M262.1,480.0 279.1,480.0 281.1,476.5 283.0,474.5 285.0,471.9 287.0,467.3 288.3,462.1 289.6,458.1 290.9,454.2 292.9,450.9 294.9,450.9 296.2,443.6 297.5,435.8 298.8,427.9 301.4,422.2 302.7,421.5 304.7,421.5 306.8,421.5 308.1,417.4 309.5,412.0 310.9,407.9 312.2,404.5 313.6,407.2 314.9,411.3 316.3,416.1 317.6,413.3 319.0,410.6 320.3,413.3 321.7,417.4 323.1,422.8 324.4,424.2 325.8,422.2 328.4,427.2 329.7,429.9 331.0,430.5 332.3,427.9 333.6,429.9 334.9,430.5 336.2,433.1 337.6,434.4 338.9,437.1 340.2,439.1 341.5,436.4 342.8,433.8 344.1,435.1 346.6,438.5 348.2,442.6 349.8,449.0 351.4,445.8 353.0,448.2 354.6,450.6 356.2,451.4 357.9,455.4 359.4,458.6 361.1,460.2 362.7,459.4 364.3,459.4 365.9,460.2 367.5,461.0 369.1,461.8 370.7,461.0 372.3,459.4 373.9,461.8 375.5,464.2 377.1,465.0 378.7,464.2 380.3,467.4 381.9,470.7 383.5,469.1 385.1,467.4 386.8,468.2 388.4,471.5 390.0,474.7 391.6,472.3 393.2,470.7 394.8,469.9 396.4,470.7 398.0,472.3 399.6,473.9 401.2,475.5 402.8,475.5 404.4,474.7 406.0,475.5 407.6,476.3 409.2,476.3 410.8,476.3 412.4,476.8 414.1,476.8 415.7,477.1 417.3,477.9 418.9,478.7 420.5,479.2 422.1,479.7 423.7,480.0 425.3,479.0 426.9,480.0 428.5,478.7 430.1,477.1 431.7,478.7 433.3,480.0 452.6,480.0" stroke="#00ff00"/>
<path d="M262.1,480.0 300.1,478.5 302.1,477.8 304.1,476.8 306.0,477.2 307.3,477.8 308.6,475.9 310.0,474.5 311.3,473.2 312.6,471.2 313.9,469.3 315.2,466.6 316.5,463.4 317.9,460.7 319.2,458.1 320.5,457.4 321.8,456.8 323.1,454.2 324.4,452.2 325.7,450.9 327.1,447.6 328.4,443.6 329.7,442.3 331.0,441.7 331.9,433.1 333.0,427.9 334.3,430.5 335.6,435.1 336.9,437.1 338.2,434.4 339.5,430.5 340.8,426.6 342.2,423.9 343.2,422.0 344.1,423.9 346.6,423.3 348.2,420.1 349.8,421.7 351.4,424.9 353.0,428.9 354.6,420.1 356.2,416.1 357.5,414.8 359.4,425.7 361.1,432.1 362.3,436.9 363.9,434.5 365.6,430.5 367.2,422.5 368.8,414.4 369.6,411.2 370.7,420.9 372.0,428.9 373.6,430.5 375.2,432.1 376.8,433.7 378.4,436.9 380.0,433.7 381.6,432.1 383.2,438.5 384.8,445.0 386.4,452.2 388.0,445.8 389.6,449.8 391.2,452.2 392.9,453.0 394.5,454.6 396.1,456.2 397.7,461.0 399.3,457.8 400.4,456.2 402.0,460.2 403.6,464.2 405.2,467.4 406.8,465.8 408.4,465.8 410.0,465.8 411.6,465.8 413.2,467.4 414.9,469.1 416.5,470.7 418.1,469.1 419.7,470.7 421.3,472.3 422.9,473.1 424.5,472.3 426.1,473.1 427.7,474.7 429.3,473.9 430.9,475.5 432.5,474.7 434.1,473.9 435.7,476.3 437.3,477.9 438.9,478.7 440.6,474.7 442.2,477.1 443.8,478.7 445.4,477.1 447.0,478.7 448.6,477.9 450.2,478.7 452.6,480.0" stroke="#0000ff"/>
<path d="M262.1,480.0 345.0,480.0 356.2,480.0 357.9,478.7 359.4,478.7 361.1,478.4 362.7,478.7 364.3,479.0 365.9,479.7 367.5,480.0 369.1,480.0 370.7,478.7 372.3,477.9 373.9,477.1 375.5,478.7 377.1,479.0 378.7,478.7 380.3,479.7 381.9,478.7 383.5,477.9 385.1,476.8 386.8,476.3 388.4,476.3 390.0,475.5 391.6,475.5 393.2,475.2 394.8,474.7 396.4,473.9 398.0,474.7 399.6,474.7 401.2,473.9 402.8,474.7 404.4,473.1 406.0,472.3 407.6,473.1 409.2,472.3 410.8,471.5 412.4,471.9 414.1,471.5 415.7,472.3 417.3,473.1 418.9,472.3 420.5,471.5 422.1,470.7 423.7,469.9 425.3,470.7 426.9,469.1 428.5,468.2 430.1,467.4 431.7,468.2 433.3,469.1 434.9,469.9 436.5,467.4 438.1,464.2 439.8,465.0 441.4,465.8 443.0,466.6 444.6,465.8 446.2,467.4 447.8,466.6 449.4,465.8 451.0,465.0 452.6,464.2" stroke="#ffa500"/>
</g>
<rect x="262.10" y="326.30" width="190.50" height="153.50" fill="none" stroke="#000" stroke-width="1.15"/>
<path d="M285.91 479.80V474.55M285.91 326.30V331.55M309.73 479.80V469.30M309.73 326.30V336.80M333.54 479.80V474.55M333.54 326.30V331.55M357.35 479.80V469.30M357.35 326.30V336.80M381.16 479.80V474.55M381.16 326.30V331.55M404.98 479.80V469.30M404.98 326.30V336.80M428.79 479.80V474.55M428.79 326.30V331.55M262.10 462.74H267.35M452.60 462.74H447.35M262.10 445.69H272.60M452.60 445.69H442.10M262.10 428.63H267.35M452.60 428.63H447.35M262.10 411.58H272.60M452.60 411.58H442.10M262.10 394.52H267.35M452.60 394.52H447.35M262.10 377.47H272.60M452.60 377.47H442.10M262.10 360.41H267.35M452.60 360.41H447.35M262.10 343.36H272.60M452.60 343.36H442.10" stroke="#000" stroke-width="1" fill="none"/>
<g fill="none" stroke-width="1.5" stroke-linejoin="round">
<path d="M468.6,480.0 492.4,480.0 494.8,452.5 497.2,480.0 513.9,480.0 516.3,437.3 518.7,480.0 521.1,416.7 523.5,480.0 525.8,437.3 528.2,437.3 530.6,459.3 533.0,437.3 535.4,437.3 537.8,437.3 540.1,372.4 542.5,415.8 544.9,415.8 547.3,480.0 549.7,416.7 552.1,480.0 554.5,415.8 556.9,387.7 559.2,360.4 561.6,331.6 564.0,351.9 566.4,371.5 568.8,436.5 571.1,394.9 573.5,457.3 575.9,457.3 578.3,457.3 580.7,480.0 585.5,480.0 587.9,452.5 590.2,481.2 592.6,459.3 595.0,436.8 597.4,436.8 599.8,480.0 606.9,480.0 609.3,452.5 611.7,480.0 614.1,452.5 616.5,480.0 621.2,480.0 623.6,452.5 626.0,480.0 630.8,480.0 633.2,452.5 635.5,480.0 659.4,480.0" stroke="#ffa500"/>
</g>
<rect x="468.60" y="326.30" width="190.80" height="153.50" fill="none" stroke="#000" stroke-width="1.15"/>
<path d="M492.45 479.80V474.55M492.45 326.30V331.55M516.30 479.80V469.30M516.30 326.30V336.80M540.15 479.80V474.55M540.15 326.30V331.55M564.00 479.80V469.30M564.00 326.30V336.80M587.85 479.80V474.55M587.85 326.30V331.55M611.70 479.80V469.30M611.70 326.30V336.80M635.55 479.80V474.55M635.55 326.30V331.55M468.60 462.74H473.85M659.40 462.74H654.15M468.60 445.69H479.10M659.40 445.69H648.90M468.60 428.63H473.85M659.40 428.63H654.15M468.60 411.58H479.10M659.40 411.58H648.90M468.60 394.52H473.85M659.40 394.52H654.15M468.60 377.47H479.10M659.40 377.47H648.90M468.60 360.41H473.85M659.40 360.41H654.15M468.60 343.36H479.10M659.40 343.36H648.90" stroke="#000" stroke-width="1" fill="none"/>
<g filter="url(#gs)">
<text x="50.4" y="178.0" font-size="14.5" text-anchor="end">0</text>
<text x="50.4" y="157.5" font-size="14.5" text-anchor="end">0.02</text>
<text x="50.4" y="137.1" font-size="14.5" text-anchor="end">0.04</text>
<text x="50.4" y="116.6" font-size="14.5" text-anchor="end">0.06</text>
<text x="50.4" y="96.1" font-size="14.5" text-anchor="end">0.08</text>
<text x="50.4" y="75.6" font-size="14.5" text-anchor="end">0.1</text>
<text x="50.4" y="55.2" font-size="14.5" text-anchor="end">0.12</text>
<text x="50.4" y="34.7" font-size="14.5" text-anchor="end">0.14</text>
<text x="50.4" y="331.5" font-size="14.5" text-anchor="end">0</text>
<text x="50.4" y="307.9" font-size="14.5" text-anchor="end">0.02</text>
<text x="50.4" y="284.3" font-size="14.5" text-anchor="end">0.04</text>
<text x="50.4" y="260.7" font-size="14.5" text-anchor="end">0.06</text>
<text x="50.4" y="237.0" font-size="14.5" text-anchor="end">0.08</text>
<text x="50.4" y="213.4" font-size="14.5" text-anchor="end">0.1</text>
<text x="50.4" y="189.8" font-size="14.5" text-anchor="end">0.12</text>
<text x="50.4" y="485.0" font-size="14.5" text-anchor="end">0</text>
<text x="50.4" y="450.9" font-size="14.5" text-anchor="end">0.02</text>
<text x="50.4" y="416.8" font-size="14.5" text-anchor="end">0.04</text>
<text x="50.4" y="382.7" font-size="14.5" text-anchor="end">0.06</text>
<text x="50.4" y="348.6" font-size="14.5" text-anchor="end">0.08</text>
<text x="55.2" y="496.0" font-size="14.5" text-anchor="middle">0</text>
<text x="102.9" y="496.0" font-size="14.5" text-anchor="middle">20</text>
<text x="150.6" y="496.0" font-size="14.5" text-anchor="middle">40</text>
<text x="198.3" y="496.0" font-size="14.5" text-anchor="middle">60</text>
<text x="246.0" y="496.0" font-size="14.5" text-anchor="middle">80</text>
<text x="262.1" y="496.0" font-size="14.5" text-anchor="middle">0</text>
<text x="309.7" y="496.0" font-size="14.5" text-anchor="middle">20</text>
<text x="357.4" y="496.0" font-size="14.5" text-anchor="middle">40</text>
<text x="405.0" y="496.0" font-size="14.5" text-anchor="middle">60</text>
<text x="452.6" y="496.0" font-size="14.5" text-anchor="middle">80</text>
<text x="468.6" y="496.0" font-size="14.5" text-anchor="middle">0</text>
<text x="516.3" y="496.0" font-size="14.5" text-anchor="middle">20</text>
<text x="564.0" y="496.0" font-size="14.5" text-anchor="middle">40</text>
<text x="611.7" y="496.0" font-size="14.5" text-anchor="middle">60</text>
<text x="659.4" y="496.0" font-size="14.5" text-anchor="middle">80</text>
<text x="150.6" y="13" font-size="15" font-weight="bold" text-anchor="middle">Si</text>
<text x="357.4" y="13" font-size="15" font-weight="bold" text-anchor="middle">Li</text>
<text x="564.0" y="13" font-size="15" font-weight="bold" text-anchor="middle">P</text>
<text x="357.4" y="512" font-size="14.8" font-weight="bold" text-anchor="middle">Cumulative displacement</text>
<text transform="translate(16.3,249.3) rotate(-90)" font-size="18.5" font-weight="bold" text-anchor="middle">Fraction of clusters</text>
<text transform="translate(676,96.0) rotate(-90)" font-size="14.8" font-weight="bold" text-anchor="middle">r<tspan font-size="10.8" dy="6">C</tspan><tspan dy="-6">&#160;= 3.6Å</tspan></text>
<text transform="translate(676,249.6) rotate(-90)" font-size="14.8" font-weight="bold" text-anchor="middle">r<tspan font-size="10.8" dy="6">C</tspan><tspan dy="-6">&#160;= 4.0Å</tspan></text>
<text transform="translate(676,403.1) rotate(-90)" font-size="14.8" font-weight="bold" text-anchor="middle">r<tspan font-size="10.8" dy="6">C</tspan><tspan dy="-6">&#160;= 4.6Å</tspan></text>
</g>
</svg></body></html>
